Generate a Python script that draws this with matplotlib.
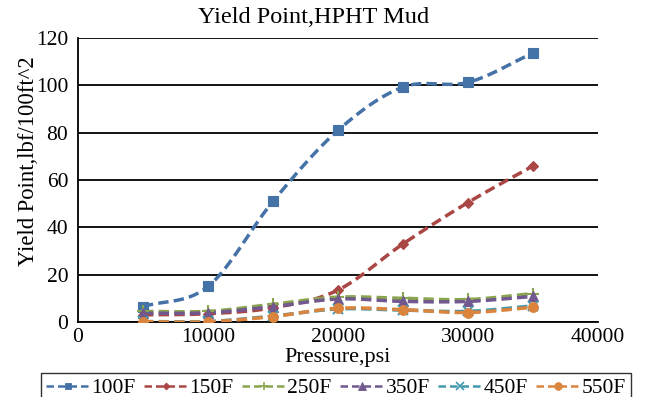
import numpy as np
import matplotlib
matplotlib.use("Agg")
import matplotlib.pyplot as plt

pressure = [5000, 10000, 15000, 20000, 25000, 30000, 35000]
yp_100F = [6.5, 15, 51, 81, 99.3, 101.3, 113.7]
yp_150F = [3, 3.5, 6, 13.5, 33, 50.5, 66]
yp_250F = [4.5, 4.5, 7.5, 10.5, 10, 9.5, 12]
yp_350F = [3.7, 3.9, 6.5, 9.7, 8.7, 8.7, 10.8]
yp_450F = [0.2, 0.2, 2.5, 5.5, 5, 4.5, 6.8]
yp_550F = [0.1, 0.1, 2.3, 5.8, 5.2, 4.0, 6.2]

series_names = ["100F", "150F", "250F", "350F", "450F", "550F"]
series_vals = [yp_100F, yp_150F, yp_250F, yp_350F, yp_450F, yp_550F]
colors = ["#4572A7", "#AA4643", "#89A54E", "#71588F", "#4198AF", "#DB843D"]
markers = ["s", "D", "+", "^", "x", "o"]
msizes = [7, 5, 8, 7, 7, 7]
leg_msizes = [5, 3.5, 6, 5.5, 6, 5.5]

plt.rcParams['font.family'] = ['Liberation Serif', 'DejaVu Serif']
FS = 15.5


def smooth(x, y, n=20):
    # Catmull-Rom spline through the points (rendering of a smoothed line)
    x = np.asarray(x, float); y = np.asarray(y, float)
    P = np.column_stack([x, y])
    P = np.vstack([P[0] * 2 - P[1], P, P[-1] * 2 - P[-2]])
    out = []
    t = np.linspace(0, 1, n)[:, None]
    for i in range(1, len(P) - 2):
        p0, p1, p2, p3 = P[i - 1], P[i], P[i + 1], P[i + 2]
        seg = 0.5 * ((2 * p1) + (-p0 + p2) * t + (2 * p0 - 5 * p1 + 4 * p2 - p3) * t ** 2
                     + (-p0 + 3 * p1 - 3 * p2 + p3) * t ** 3)
        out.append(seg if i == 1 else seg[1:])
    out = np.vstack(out)
    return out[:, 0], out[:, 1]


fig = plt.figure(figsize=(6.5, 3.97), dpi=100)
ax = fig.add_axes([0.12, 0.189, 0.8, 0.715])

dash = (0, (3.0, 1.5))
handles = []
for name, vals, c, m, ms, lms in zip(series_names, series_vals, colors, markers, msizes, leg_msizes):
    sx, sy = smooth(pressure, vals)
    mew = 1.5 if m in "+x" else 0.8
    ax.plot(sx, sy, color=c, lw=2.5, linestyle=dash, zorder=3)
    ax.plot(pressure, vals, linestyle='none', marker=m, markersize=ms, color=c,
            markeredgecolor=c, markeredgewidth=mew, zorder=4)
    h, = ax.plot([], [], color=c, lw=1.8, linestyle=(0, (3.0, 1.6)), marker=m,
                 markersize=lms, markeredgecolor=c, markeredgewidth=1.2 if m in "+x" else 0.6)
    handles.append(h)

ax.set_xlim(0, 40000)
ax.set_ylim(0, 120)
ax.set_xticks([0, 10000, 20000, 30000, 40000])
ax.set_yticks([0, 20, 40, 60, 80, 100, 120])
ax.yaxis.grid(True, color='black', lw=1.3)
ax.set_axisbelow(True)
for s in ['top', 'right']:
    ax.spines[s].set_visible(False)
ax.spines['left'].set_linewidth(1.3)
ax.spines['bottom'].set_linewidth(1.3)
ax.tick_params(length=0, labelsize=FS)
ax.tick_params(axis='x', pad=4)
ax.tick_params(axis='y', pad=7)

fig.text(0.482, 0.955, "Yield Point,HPHT Mud", fontsize=17.5, ha='center', va='center')
ax.set_xlabel("Pressure,psi", fontsize=16, va='center')
ax.xaxis.set_label_coords(0.5, -0.125)
ax.set_ylabel("Yield Point,lbf/100ft^2", fontsize=16.3, va='center')
ax.yaxis.set_label_coords(-0.096, 0.567)

leg = fig.legend(handles, series_names, loc='upper center', bbox_to_anchor=(0.517, 0.0605),
                 ncol=6, fontsize=FS, frameon=True, fancybox=False, handlelength=2.0,
                 handletextpad=0.1, columnspacing=0.4, borderpad=0.25, borderaxespad=0)
leg.get_frame().set_edgecolor('black')
leg.get_frame().set_linewidth(1.0)

fig.savefig("out.png", dpi=100)
